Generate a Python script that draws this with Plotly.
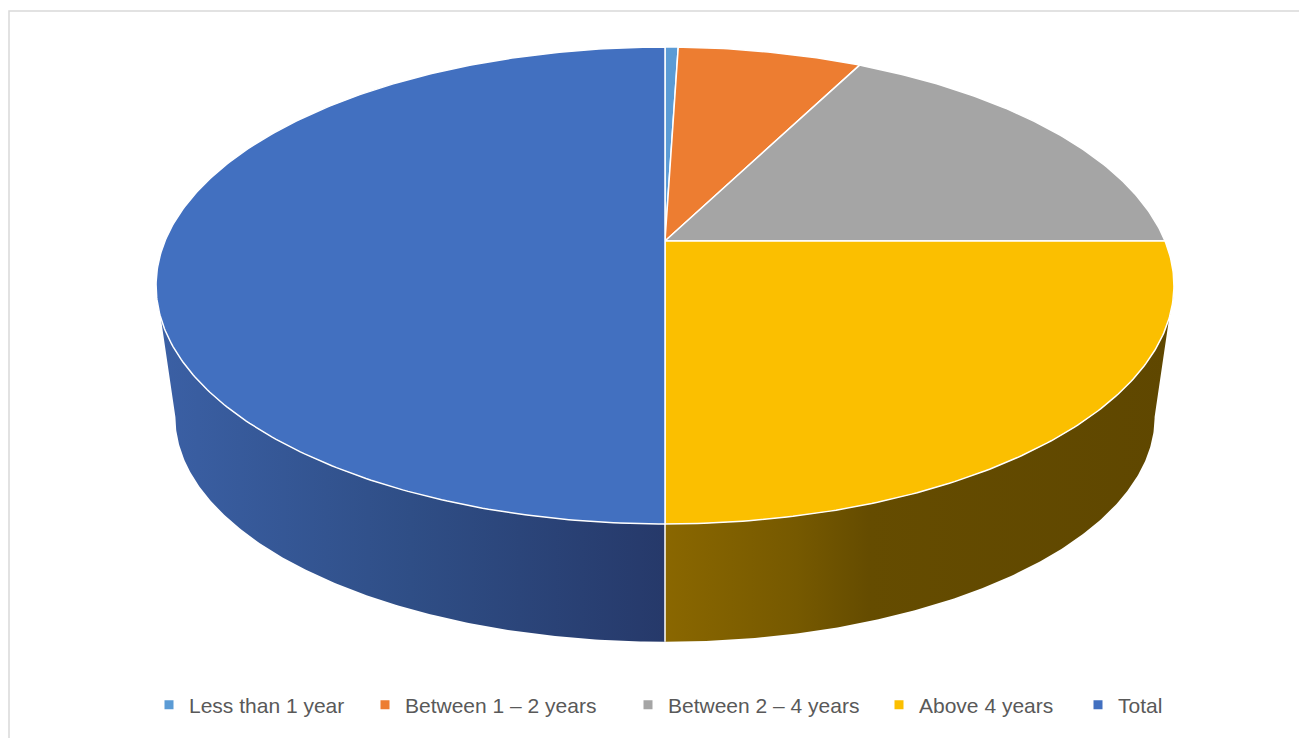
import numpy as np
import plotly.graph_objects as go

# ---- data ----
categories = ["Less than 1 year", "Between 1 – 2 years", "Between 2 – 4 years", "Above 4 years", "Total"]
values = [1, 14, 35, 50, 100]
top_colors = ["#5b9bd5", "#ed7d31", "#a5a5a5", "#fbbf00", "#4270c0"]
side_gradients = {
    "Above 4 years": [[0, "#8a6700"], [0.26, "#765900"], [0.4, "#654c00"], [1, "#5f4700"]],
    "Total": [[0, "#3b60a5"], [0.5, "#2f4e86"], [1, "#26396a"]],
}
legend_text_x = [187, 403, 666, 917, 1116]   # legend entry text starts (page px)

# ---- geometry (page pixel space; page body has an 8px margin) ----
OFF = 8
W, H = 1307, 738
# perspective-projected disc: x = cx + a*u/(1-k*v), y = cy + b*v/(1-k*v)
cx, cy, a, b, k = 665, 241, 500, 230.2, 0.1866      # top face
cyb, ab, bb = 375, 481, 217                           # bottom face


def proj(phi, c_y, aa, bbb):
    u, v = np.sin(phi), -np.cos(phi)
    w = 1 - k * v
    return cx + aa * u / w, c_y + bbb * v / w


def top_pt(phi):
    return proj(phi, cy, a, b)


def bot_pt(phi):
    return proj(phi, cyb, ab, bb)


total = sum(values)
angles = np.cumsum([0] + values) / total * 2 * np.pi
phi_ext = np.arctan2(np.sqrt(1 - k * k), -k)          # silhouette angle

fig = go.Figure()

# side faces (visible between the silhouette points)
for i, name in enumerate(categories):
    a0, a1 = angles[i], angles[i + 1]
    s0, s1 = max(a0, phi_ext), min(a1, 2 * np.pi - phi_ext)
    if s1 <= s0:
        continue
    t = np.linspace(s0, s1, 200)
    xt, yt = top_pt(t)
    xb, yb = bot_pt(t[::-1])
    xs = np.concatenate([xt, xb, [xt[0]]])
    ys = np.concatenate([yt, yb, [yt[0]]])
    fig.add_trace(go.Scatter(
        x=xs, y=ys, mode="lines", fill="toself",
        fillgradient=dict(type="horizontal", colorscale=side_gradients.get(name)),
        line=dict(width=0, color="rgba(0,0,0,0)"),
        hoverinfo="skip", showlegend=False))

# white separators on the side at slice boundaries in the visible part
for ang in angles[1:-1]:
    if phi_ext < ang < 2 * np.pi - phi_ext:
        x0, y0 = top_pt(ang)
        x1, y1 = bot_pt(ang)
        fig.add_trace(go.Scatter(x=[x0, x1], y=[y0, y1], mode="lines",
                                 line=dict(color="white", width=1.5),
                                 hoverinfo="skip", showlegend=False))

# top faces
for i, name in enumerate(categories):
    a0, a1 = angles[i], angles[i + 1]
    n = max(int((a1 - a0) / (2 * np.pi) * 600), 4)
    t = np.linspace(a0, a1, n)
    xt, yt = top_pt(t)
    xs = np.concatenate([[cx], xt, [cx]])
    ys = np.concatenate([[cy], yt, [cy]])
    fig.add_trace(go.Scatter(
        x=xs, y=ys, mode="lines", fill="toself", fillcolor=top_colors[i],
        line=dict(color="white", width=1.5),
        hovertemplate=f"{name}: {values[i]}<extra></extra>", showlegend=False))

# legend entries, each in its own legend so positions match the reference
legend_font = dict(family="Liberation Sans, Arial, sans-serif", size=21, color="#595959")
legend_y = (H - 705) / (H - OFF)
layout_legends = {}
for i, name in enumerate(categories):
    key = "legend" if i == 0 else f"legend{i + 1}"
    fig.add_trace(go.Scatter(
        x=[None], y=[None], mode="markers", name=name, legend=key, showlegend=True,
        marker=dict(symbol="square", size=9, color=top_colors[i])))
    layout_legends[key] = dict(
        orientation="h", x=(legend_text_x[i] - 38 - OFF) / (W - OFF), xanchor="left",
        y=legend_y, yanchor="middle", font=legend_font, bgcolor="rgba(0,0,0,0)",
        borderwidth=0, itemwidth=30)

fig.update_layout(
    width=W - OFF, height=H - OFF,
    margin=dict(l=0, r=0, t=0, b=0),
    paper_bgcolor="white", plot_bgcolor="white",
    xaxis=dict(range=[OFF, W], visible=False, fixedrange=True),
    yaxis=dict(range=[H, OFF], visible=False, fixedrange=True),
    showlegend=True,
    shapes=[dict(type="rect", xref="x", yref="y", x0=9, y0=11, x1=W + 20, y1=H + 20,
                 line=dict(color="#d9d9d9", width=1.5), fillcolor="rgba(0,0,0,0)", layer="below")],
    **layout_legends,
)

fig.write_html("out.html")
